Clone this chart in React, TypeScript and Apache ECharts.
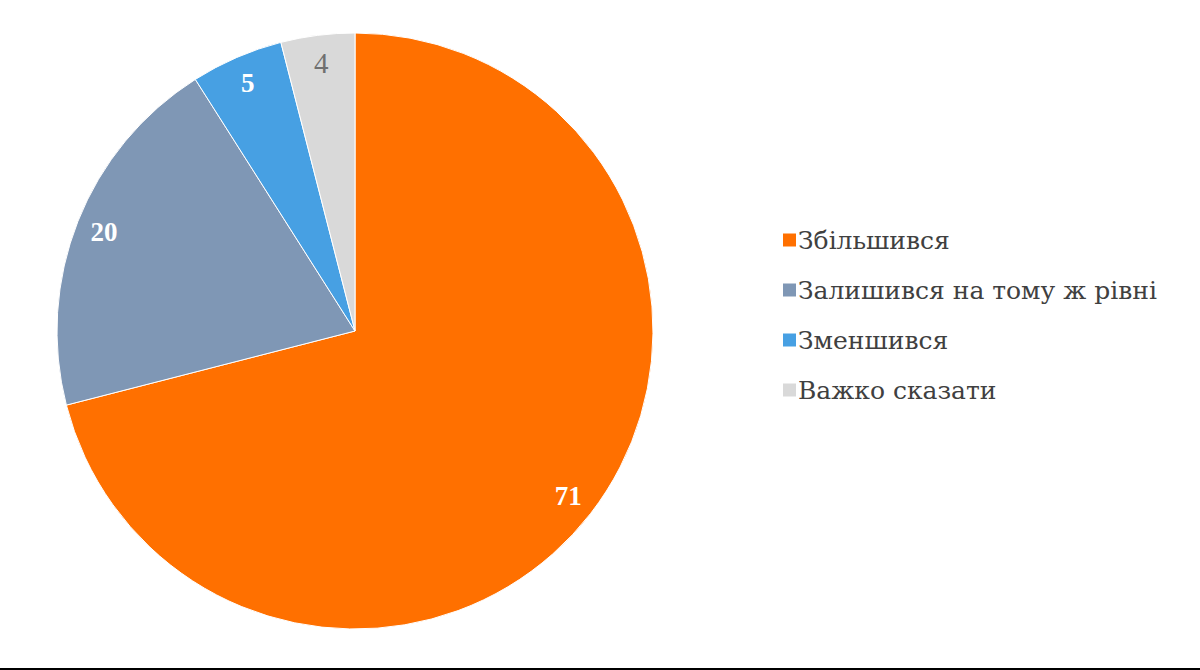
import React, { useEffect, useRef } from "react";
import * as echarts from "echarts";

const categories = ["Збільшився", "Залишився на тому ж рівні", "Зменшився", "Важко сказати"];
const values = [71, 20, 5, 4];
const colors = ["#FF7000", "#7F97B5", "#47A0E3", "#D9D9D9"];
const labelColors = ["#FFFFFF", "#FFFFFF", "#FFFFFF", "#707070"];
const labelWeights = ["bold", "bold", "bold", "normal"];
const labelSizes = [27, 27, 27, 29];

export default function App() {
  const ref = useRef<HTMLDivElement>(null);
  useEffect(() => {
    document.body.style.margin = "0";
    const chart = echarts.init(ref.current!, null, { renderer: "svg" });
    const font = "Liberation Serif, Times New Roman, serif";
    const legendFont = "DejaVu Serif";
    const mainData = categories.map((name, i) => ({
      name,
      value: values[i],
      itemStyle: { color: colors[i] },
    }));
    const labelData = categories.map((name, i) => ({
      name,
      value: values[i],
      label: { color: labelColors[i], fontWeight: labelWeights[i], fontSize: labelSizes[i], fontFamily: font },
    }));
    chart.setOption({
      animation: false,
      backgroundColor: "#FFFFFF",
      legend: {
        orient: "vertical",
        left: 776,
        top: 221,
        icon: "rect",
        itemWidth: 15,
        itemHeight: 15,
        itemGap: 22,
        selectedMode: false,
        data: categories.map((name, i) => ({ name, itemStyle: { color: colors[i] } })),
        textStyle: { fontFamily: legendFont, fontSize: 25, color: "#404040", lineHeight: 28, padding: [0, 0, 0, -4] },
      },
      series: [
        {
          type: "pie",
          center: [355, 331],
          radius: [0, 298],
          startAngle: 90,
          clockwise: true,
          silent: true,
          label: { show: false },
          labelLine: { show: false },
          itemStyle: { borderColor: "#FFFFFF", borderWidth: 1 },
          data: mainData,
        },
        {
          type: "pie",
          center: [355, 331],
          radius: [236, 298],
          startAngle: 90,
          clockwise: true,
          silent: true,
          legendHoverLink: false,
          itemStyle: { color: "transparent", borderWidth: 0 },
          label: { show: true, position: "inside", fontFamily: font, formatter: "{c}" },
          labelLine: { show: false },
          data: labelData,
        },
      ],
      graphic: [
        { type: "rect", left: 0, top: 668, shape: { width: 1200, height: 2 }, style: { fill: "#000000" } },
      ],
    });
    return () => chart.dispose();
  }, []);
  return <div ref={ref} style={{ width: 1200, height: 670 }} />;
}
